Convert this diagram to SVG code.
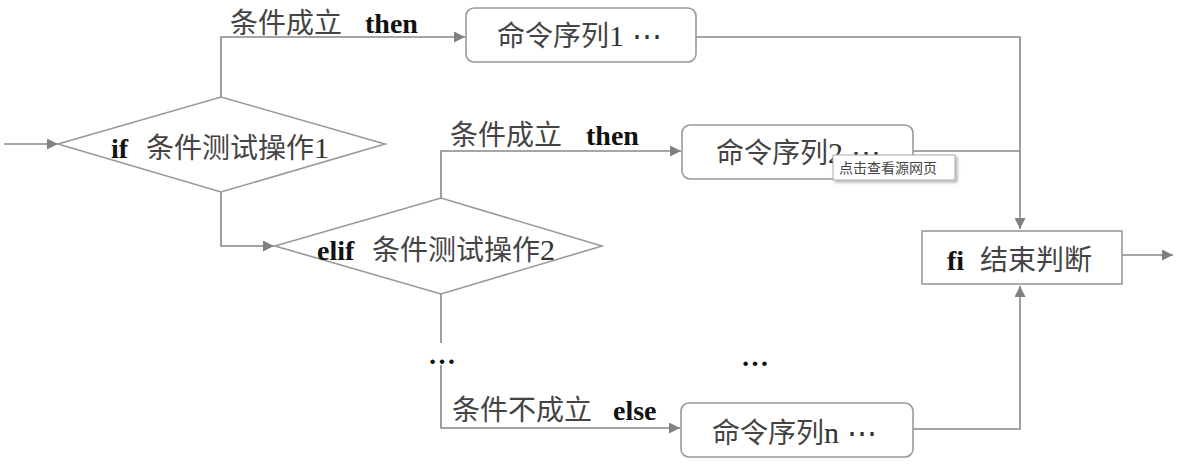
<svg xmlns="http://www.w3.org/2000/svg" width="1178" height="467" viewBox="0 0 1178 467">
<defs>
<marker id="arr" viewBox="0 0 10 10" refX="10" refY="5" markerWidth="11" markerHeight="11" markerUnits="userSpaceOnUse" orient="auto">
<path d="M0,0 L10,5 L0,10 z" fill="#808080"/>
</marker>
<filter id="sh" x="-10%" y="-20%" width="130%" height="160%">
<feDropShadow dx="2" dy="2" stdDeviation="1.5" flood-color="#000" flood-opacity="0.3"/>
</filter>
</defs>
<style>
.ln{fill:none;stroke:#888;stroke-width:1.6}
.shape{fill:#fff;stroke:#999;stroke-width:1.6}
.cjk{font-family:"Noto Sans CJK SC","Noto Sans",sans-serif;font-size:28px;fill:#444}
.lat{font-family:"Liberation Serif",serif;font-size:30px;fill:#333}
.b{font-family:"Liberation Serif",serif;font-size:28px;font-weight:bold;fill:#111}
.tip{font-family:"Noto Sans CJK SC",sans-serif;font-size:14px;fill:#444}
</style>
<rect width="1178" height="467" fill="#fff"/>
<g id="connectors">
<path class="ln" d="M4,144 H58" marker-end="url(#arr)"/>
<path class="ln" d="M221,97 V37 H465" marker-end="url(#arr)"/>
<path class="ln" d="M221,192 V246 H274" marker-end="url(#arr)"/>
<path class="ln" d="M441,198 V151 H681" marker-end="url(#arr)"/>
<path class="ln" d="M441,294 V343"/>
<path class="ln" d="M441,365 V428 H680" marker-end="url(#arr)"/>
<path class="ln" d="M696,37 H1020 V229" marker-end="url(#arr)"/>
<path class="ln" d="M913,151 H1020"/>
<path class="ln" d="M913,429 H1020 V286" marker-end="url(#arr)"/>
<path class="ln" d="M1122,255 H1173" marker-end="url(#arr)"/>
</g>
<g id="labels">
<text x="230" y="33"><tspan class="cjk">条件成立</tspan><tspan class="b" x="365">then</tspan></text>
<text x="450" y="145"><tspan class="cjk">条件成立</tspan><tspan class="b" x="586">then</tspan></text>
<text x="452" y="420"><tspan class="cjk">条件不成立</tspan><tspan class="b" x="613">else</tspan></text>
<text class="b" x="428" y="364">…</text>
<text class="b" x="741" y="366">…</text>
</g>
<g id="if">
<polygon class="shape" points="58,144 221,97 385,144 221,192"/>
<text x="111" y="158"><tspan class="b">if</tspan><tspan class="cjk" x="146">条件测试操作</tspan><tspan class="lat">1</tspan></text>
</g>
<g id="elif">
<polygon class="shape" points="275,246 441,198 602,246 441,294"/>
<text x="317" y="260"><tspan class="b">elif</tspan><tspan class="cjk" x="372">条件测试操作</tspan><tspan class="lat">2</tspan></text>
</g>
<g id="cmd1">
<rect class="shape" x="466" y="8" width="230" height="54" rx="8"/>
<text x="497" y="46"><tspan class="cjk">命令序列</tspan><tspan class="lat">1 ⋯</tspan></text>
</g>
<g id="cmd2">
<rect class="shape" x="682" y="125" width="231" height="54" rx="8"/>
<text x="716" y="163"><tspan class="cjk">命令序列</tspan><tspan class="lat">2 ⋯</tspan></text>
</g>
<g id="cmdn">
<rect class="shape" x="681" y="403" width="232" height="54" rx="8"/>
<text x="712" y="443"><tspan class="cjk">命令序列</tspan><tspan class="lat">n ⋯</tspan></text>
</g>
<g id="fi">
<rect class="shape" x="922" y="231" width="200" height="53"/>
<text x="947" y="270"><tspan class="b">fi</tspan><tspan class="cjk" x="980">结束判断</tspan></text>
</g>
<g id="tooltip">
<rect x="833" y="155" width="122" height="25" fill="#fff" stroke="#aaa" stroke-width="1" filter="url(#sh)"/>
<text class="tip" x="839" y="173">点击查看源网页</text>
</g>
</svg>
